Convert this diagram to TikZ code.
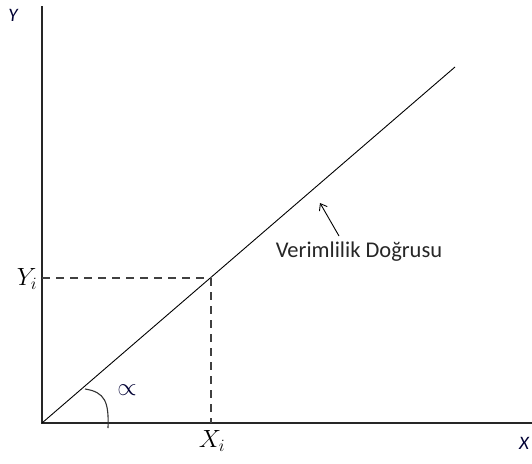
\documentclass[tikz,border=0pt]{standalone}
\usepackage{fontspec}
\newfontfamily\calib{Carlito}
\usetikzlibrary{arrows.meta}
\begin{document}
\begin{tikzpicture}[x=1pt,y=-1pt,
  axis/.style={line width=1.6pt,draw=black!85},
  mainline/.style={line width=0.9pt,black},
  guide/.style={line width=1.1pt,draw=black!75,dash pattern=on 8pt off 6pt},
  lbl/.style={inner sep=0pt}]
\useasboundingbox (0,0) rectangle (532,463);
\coordinate (O) at (42,423);
\coordinate (Ytop) at (42,6);
\coordinate (Xend) at (532,423);
\coordinate (Lend) at (455,67);
\coordinate (P) at (211,278);
\coordinate (Py) at (42,278);
\coordinate (Px) at (211,423);
\draw[axis] (Ytop) -- (O) -- (Xend);
\draw[mainline] (O) -- (Lend);
\draw[guide] (Py) -- (P);
\draw[guide] (P) -- (Px);
% angle arc
\coordinate (A1) at (85,389);
\coordinate (A2) at (108,428);
\draw[line width=1.1pt,black!80] (A1) .. controls (105,392) and (109,402) .. (A2);
% arrow
\coordinate (Atail) at (339,236);
\coordinate (Atip) at (320,203);
\draw[line width=0.9pt,-{Straight Barb[length=6pt,width=9pt]}] (Atail) -- (Atip);
% labels
\node[lbl,font=\calib\itshape\fontsize{19}{22}\selectfont,text=black!80!blue] (ylab) at (13,15) {Y};
\node[lbl,font=\calib\itshape\fontsize{19}{22}\selectfont,text=black!80!blue] (xlab) at (524,443) {X};
\node[lbl,font=\fontsize{23}{26}\selectfont] (yi) at (27,279) {$Y_i$};
\node[lbl,font=\fontsize{23}{26}\selectfont] (xi) at (212,441) {$X_i$};
\node[lbl,font=\fontsize{24}{26}\selectfont,text=black!80!blue] (al) at (127,390) {$\propto$};
\node[lbl,font=\calib\fontsize{22.5}{26}\selectfont,text=black!85] (vl) at (359,252) {Verimlilik Doğrusu};
\end{tikzpicture}
\end{document}
